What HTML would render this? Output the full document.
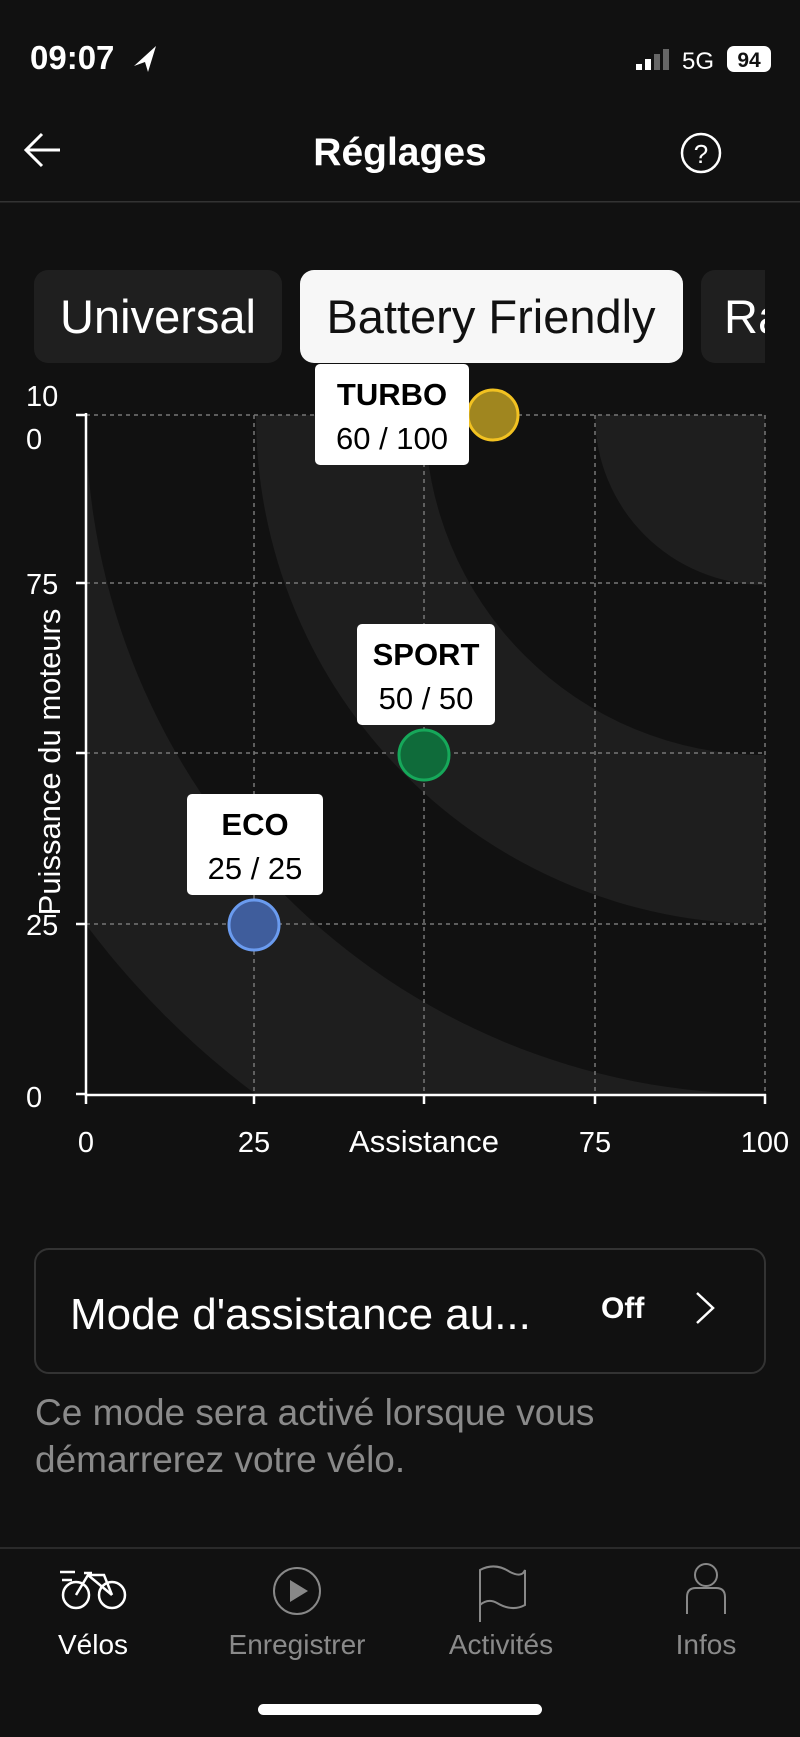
<!DOCTYPE html>
<html><head><meta charset="utf-8"><style>
body{margin:0;background:#111;width:800px;height:1732px;overflow:hidden;font-family:"Liberation Sans",sans-serif;}
</style></head><body>
<svg width="800" height="1732" viewBox="0 0 800 1732" xmlns="http://www.w3.org/2000/svg" font-family="Liberation Sans, sans-serif">
<rect width="800" height="1732" fill="#111"/>
<!-- status bar -->
<text x="30" y="69" fill="#fff" font-size="33" font-weight="bold">09:07</text>
<path d="M134 66 L156 46 L148 72 L145 62 Z" fill="#fff"/>
<rect x="636" y="64" width="6" height="6" fill="#fff"/><rect x="645" y="59" width="6" height="11" fill="#fff"/><rect x="654" y="54" width="6" height="16" fill="#666"/><rect x="663" y="49" width="6" height="21" fill="#666"/>
<text x="682" y="69" fill="#fff" font-size="24">5G</text>
<rect x="727" y="46" width="44" height="26" rx="7" fill="#fff"/>
<text x="749" y="67" fill="#111" font-size="21" font-weight="bold" text-anchor="middle">94</text>
<!-- header -->
<path d="M60 150 H26 M42 134 L26 150 L42 166" stroke="#fff" stroke-width="3" fill="none"/>
<text x="400" y="165" fill="#fff" font-size="39" font-weight="bold" text-anchor="middle">Réglages</text>
<circle cx="701" cy="153" r="19" stroke="#fff" stroke-width="2.5" fill="none"/>
<text x="701" y="163" fill="#fff" font-size="26" text-anchor="middle">?</text>
<rect x="0" y="201" width="800" height="1.5" fill="#333"/>
<!-- tabs -->
<rect x="34" y="270" width="248" height="93" rx="14" fill="#1f1f1f"/>
<text x="158" y="333" fill="#fff" font-size="47" text-anchor="middle">Universal</text>
<rect x="300" y="270" width="383" height="93" rx="14" fill="#f7f7f7"/>
<text x="491" y="333" fill="#111" font-size="47" text-anchor="middle">Battery Friendly</text>
<clipPath id="tc"><rect x="701" y="270" width="64" height="93"/></clipPath>
<g clip-path="url(#tc)"><rect x="701" y="270" width="120" height="93" rx="14" fill="#1f1f1f"/>
<text x="724" y="333" fill="#fff" font-size="47">Ra</text></g>
<!-- plot bands -->
<clipPath id="pc"><rect x="86" y="415" width="679" height="679"/></clipPath>
<g clip-path="url(#pc)">
<rect x="86" y="415" width="679" height="679" fill="#111"/>
<circle cx="765" cy="415" r="849" fill="#1e1e1e"/>
<circle cx="765" cy="415" r="679" fill="#111"/>
<circle cx="765" cy="415" r="509" fill="#1e1e1e"/>
<circle cx="765" cy="415" r="340" fill="#111"/>
<circle cx="765" cy="415" r="170" fill="#1e1e1e"/>
</g>
<!-- grid -->
<g stroke="#777" stroke-width="1.5" stroke-dasharray="4 4" fill="none">
<path d="M86 415 H765 M86 583 H765 M86 753 H765 M86 924 H765"/>
<path d="M254 415 V1094 M424 415 V1094 M595 415 V1094 M765 415 V1094"/>
</g>
<!-- axes -->
<g stroke="#fff" stroke-width="2.5" fill="none">
<path d="M86 413 V1095 H766"/>
<path d="M76 415 H86 M76 583 H86 M76 753 H86 M76 924 H86 M76 1094 H86"/>
<path d="M86 1094 V1104 M254 1094 V1104 M424 1094 V1104 M595 1094 V1104 M765 1094 V1104"/>
</g>
<g fill="#fff" font-size="29">
<text x="26" y="406">10</text><text x="26" y="449">0</text>
<text x="26" y="594">75</text>
<text x="26" y="935">25</text>
<text x="26" y="1107">0</text>
<text x="86" y="1152" text-anchor="middle">0</text>
<text x="254" y="1152" text-anchor="middle">25</text>
<text x="424" y="1152" text-anchor="middle" font-size="31">Assistance</text>
<text x="595" y="1152" text-anchor="middle">75</text>
<text x="765" y="1152" text-anchor="middle">100</text>
<text transform="translate(60,762) rotate(-90)" text-anchor="middle" font-size="31">Puissance du moteurs</text>
</g>
<!-- points -->
<circle cx="493" cy="415" r="25" fill="#a0861f" stroke="#f2c221" stroke-width="3"/>
<circle cx="424" cy="755" r="25" fill="#0f6b3a" stroke="#16a85a" stroke-width="3"/>
<circle cx="254" cy="925" r="25" fill="#3f5d9c" stroke="#6a9bef" stroke-width="3"/>
<!-- labels -->
<g font-size="31" text-anchor="middle" fill="#000">
<rect x="315" y="364" width="154" height="101" rx="5" fill="#fff"/>
<text x="392" y="405" font-weight="bold">TURBO</text><text x="392" y="449">60 / 100</text>
<rect x="357" y="624" width="138" height="101" rx="5" fill="#fff"/>
<text x="426" y="665" font-weight="bold">SPORT</text><text x="426" y="709">50 / 50</text>
<rect x="187" y="794" width="136" height="101" rx="5" fill="#fff"/>
<text x="255" y="835" font-weight="bold">ECO</text><text x="255" y="879">25 / 25</text>
</g>
<!-- card -->
<rect x="35" y="1249" width="730" height="124" rx="14" fill="#111" stroke="#333" stroke-width="2"/>
<text x="70" y="1329" fill="#fff" font-size="44">Mode d'assistance au...</text>
<text x="601" y="1318" fill="#fff" font-size="30" font-weight="bold">Off</text>
<path d="M697 1293 L713 1308 L697 1323" stroke="#fff" stroke-width="2.5" fill="none"/>
<g fill="#8a8a8a" font-size="37">
<text x="35" y="1425">Ce mode sera activé lorsque vous</text>
<text x="35" y="1472">démarrerez votre vélo.</text>
</g>
<!-- bottom nav -->
<rect x="0" y="1547" width="800" height="2" fill="#2a2a2a"/>
<g stroke="#fff" stroke-width="2.5" fill="none">
<circle cx="76" cy="1595" r="13"/><circle cx="112" cy="1595" r="13"/>
<path d="M76 1595 L88 1575 L112 1595 M88 1575 H104 L112 1595 M84 1573 H92 M60 1572 H75 M62 1580 H72"/>
</g>
<g stroke="#888" stroke-width="2" fill="none">
<circle cx="297" cy="1591" r="23"/>
<path d="M480 1622 V1570 Q495 1562 510 1572 Q522 1578 525 1570 V1605 Q512 1612 497 1603 Q488 1598 480 1605"/>
<circle cx="706" cy="1575" r="11"/>
<path d="M687 1614 V1597 Q687 1588 696 1588 H716 Q725 1588 725 1597 V1614"/>
</g>
<path d="M290 1580 L308 1591 L290 1602 Z" fill="#888"/>
<g font-size="28" text-anchor="middle">
<text x="93" y="1654" fill="#fff">Vélos</text>
<text x="297" y="1654" fill="#8a8a8a">Enregistrer</text>
<text x="501" y="1654" fill="#8a8a8a">Activités</text>
<text x="706" y="1654" fill="#8a8a8a">Infos</text>
</g>
<rect x="258" y="1704" width="284" height="11" rx="5.5" fill="#fff"/>
</svg>
</body></html>
